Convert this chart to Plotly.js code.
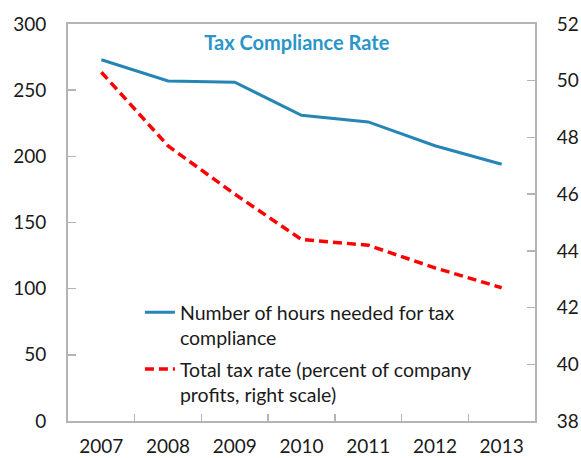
<!DOCTYPE html>
<html>
<head>
<meta charset="utf-8">
<script src="https://cdn.plot.ly/plotly-3.0.1.min.js"></script>
<style>html,body{margin:0;padding:0;background:#fff;}#chart{width:581px;height:458px;}</style>
</head>
<body>
<div id="chart"></div>
<script>
const years = ['2007', '2008', '2009', '2010', '2011', '2012', '2013'];
const hoursNeeded = [273, 257, 256, 231, 226, 208, 194];
const totalTaxRate = [50.3, 47.7, 46.0, 44.4, 44.2, 43.4, 42.7];
const leftTicks = [0, 50, 100, 150, 200, 250, 300];
const rightTicks = [38, 40, 42, 44, 46, 48, 50, 52];

const FONT = 'Lato, "Open Sans", Arial, sans-serif';
const AXIS_GREY = '#b4b4b4';

const traces = [
  {
    x: years, y: hoursNeeded, type: 'scatter', mode: 'lines',
    name: 'Number of hours needed for tax<br>compliance',
    line: {color: '#2585b5', width: 3},
    yaxis: 'y', legendgroup: 'a'
  },
  {
    x: years, y: totalTaxRate, type: 'scatter', mode: 'lines',
    name: 'Total tax rate (percent of company<br>profits, right scale)',
    line: {color: '#ff0000', width: 3.5, dash: '9px,5px'},
    yaxis: 'y2', legendgroup: 'b'
  }
];

const layout = {
  width: 581, height: 458,
  margin: {l: 68, r: 46, t: 24, b: 37, pad: 0},
  paper_bgcolor: '#ffffff', plot_bgcolor: '#ffffff',
  font: {family: FONT, size: 19, color: '#1a1a1a'},
  title: {
    text: '<b>Tax Compliance Rate</b>',
    font: {family: FONT, size: 20, color: '#2a95c9'},
    xref: 'paper', x: 0.49, xanchor: 'center',
    yref: 'container', y: 1 - 43/458, yanchor: 'middle'
  },
  showlegend: true,
  legend: {
    x: 0.154, y: 0.322, xanchor: 'left', yanchor: 'top',
    bgcolor: 'rgba(0,0,0,0)', borderwidth: 0,
    valign: 'top', tracegroupgap: 3,
    font: {family: FONT, size: 19.5, color: '#1a1a1a'}
  },
  xaxis: {
    type: 'category', range: [-0.5, 6.5],
    showline: true, linecolor: AXIS_GREY, linewidth: 2, mirror: true,
    ticks: 'inside', tickson: 'boundaries', ticklen: 7, tickcolor: AXIS_GREY, tickwidth: 1.5,
    showgrid: false, zeroline: false, ticklabelstandoff: 7,
    tickfont: {family: FONT, size: 19, color: '#1a1a1a'}
  },
  yaxis: {
    range: [0, 300], tickvals: leftTicks,
    showline: true, linecolor: AXIS_GREY, linewidth: 2,
    ticks: 'inside', ticklen: 8, tickcolor: AXIS_GREY, tickwidth: 1.5,
    showgrid: false, zeroline: false, ticklabelstandoff: 16,
    tickfont: {family: FONT, size: 19, color: '#1a1a1a'}
  },
  yaxis2: {
    range: [38, 52], tickvals: rightTicks, overlaying: 'y', side: 'right',
    showline: true, linecolor: AXIS_GREY, linewidth: 2,
    ticks: 'inside', ticklen: 8, tickcolor: AXIS_GREY, tickwidth: 1.5,
    showgrid: false, zeroline: false, ticklabelstandoff: 16,
    tickfont: {family: FONT, size: 19, color: '#1a1a1a'}
  }
};

Plotly.newPlot('chart', traces, layout, {displayModeBar: false, staticPlot: true});
</script>
</body>
</html>
